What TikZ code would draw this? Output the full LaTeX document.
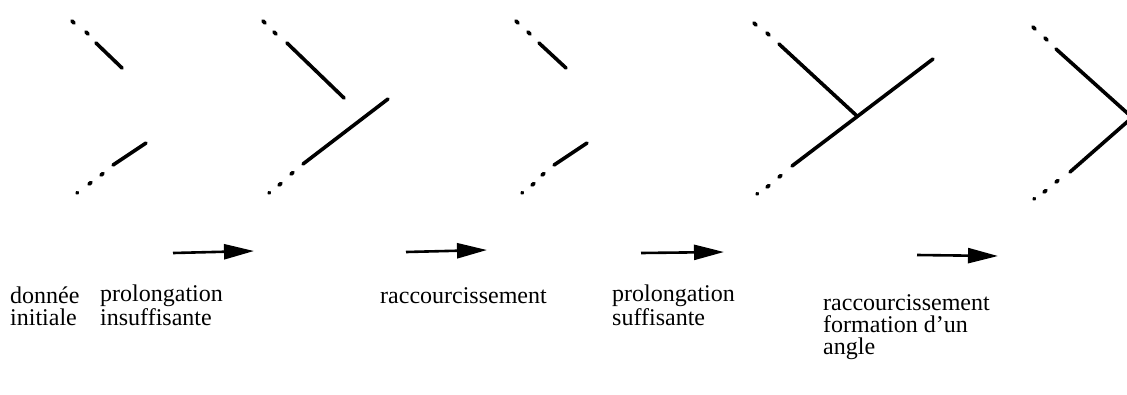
\documentclass[tikz,border=0pt]{standalone}
\usepackage{fontspec}
\setmainfont{Liberation Serif}
\usetikzlibrary{arrows.meta}
\tikzset{
  seg/.style={line width=3.6pt, line cap=round},
  dotseg/.style={line width=3.8pt, line cap=round},
  bigarrow/.style={line width=2.6pt, -{Triangle[length=30pt,width=15pt]}},
  lbl/.style={anchor=base west, align=left, inner sep=0pt, font=\fontsize{24}{22}\selectfont}
}
\begin{document}
\begin{tikzpicture}[x=1pt,y=-1pt]
\useasboundingbox (0,0) rectangle (1127,394);
\clip (0,0) rectangle (1127,394);
% figure 1
\draw[dotseg] (72,21) -- (74,23);
\draw[dotseg] (86,32) -- (88,34);
\draw[seg] (96,43) -- (122,68);
\draw[dotseg] (77,193) -- (77.5,192.6);
\draw[dotseg] (89,184) -- (91,182.5);
\draw[dotseg] (101,175) -- (103,173.5);
\draw[seg] (113,165) -- (146,143);
% figure 2
\draw[dotseg] (263,21) -- (265,23);
\draw[dotseg] (274,32) -- (276,34);
\draw[seg] (287,43) -- (344,98);
\draw[dotseg] (269,193) -- (269.5,192.6);
\draw[dotseg] (279,185) -- (281,183.5);
\draw[dotseg] (291,174) -- (293,172.5);
\draw[seg] (303,164) -- (388,99);
% figure 3
\draw[dotseg] (516,21) -- (518,23);
\draw[dotseg] (528,32) -- (530,34);
\draw[seg] (539,43) -- (566,68);
\draw[dotseg] (522,193) -- (522.5,192.6);
\draw[dotseg] (532,185) -- (534,183.5);
\draw[dotseg] (542,175) -- (544,173.5);
\draw[seg] (554,165) -- (587,143);
% figure 4
\draw[dotseg] (754,23) -- (756,25);
\draw[dotseg] (767,33) -- (769,35);
\draw[seg] (779,44) -- (857,116);
\draw[dotseg] (757,194) -- (757.5,193.6);
\draw[dotseg] (767,187) -- (769,185.5);
\draw[dotseg] (779,177) -- (781,175.5);
\draw[seg] (792,166) -- (933,59);
% figure 5
\draw[dotseg] (1033,27) -- (1035,29);
\draw[dotseg] (1045,38) -- (1047,40);
\draw[seg] (1056,49) -- (1135,120);
\draw[dotseg] (1034,199) -- (1034.5,198.6);
\draw[dotseg] (1044,192) -- (1046,190.5);
\draw[dotseg] (1056,182) -- (1058,180.5);
\draw[seg] (1070,172) -- (1135,115);
% arrows
\coordinate (a1s) at (173,253); \coordinate (a1e) at (254,251);
\coordinate (a2s) at (406,252); \coordinate (a2e) at (487,250);
\coordinate (a3s) at (641,253); \coordinate (a3e) at (724,252);
\coordinate (a4s) at (917,255); \coordinate (a4e) at (998,256);
\draw[bigarrow] (a1s) -- (a1e);
\draw[bigarrow] (a2s) -- (a2e);
\draw[bigarrow] (a3s) -- (a3e);
\draw[bigarrow] (a4s) -- (a4e);
% labels (base = baseline of last line)
\node[lbl] (l1) at (10,325) {donnée\\initiale};
\node[lbl] (l2) at (100,325) {prolongation\\insuffisante};
\node[lbl] (l3) at (380,303) {raccourcissement};
\node[lbl] (l4) at (612,325) {prolongation\\suffisante};
\node[lbl] (l5) at (823,354) {raccourcissement\\formation d'un\\angle};
\end{tikzpicture}
\end{document}
